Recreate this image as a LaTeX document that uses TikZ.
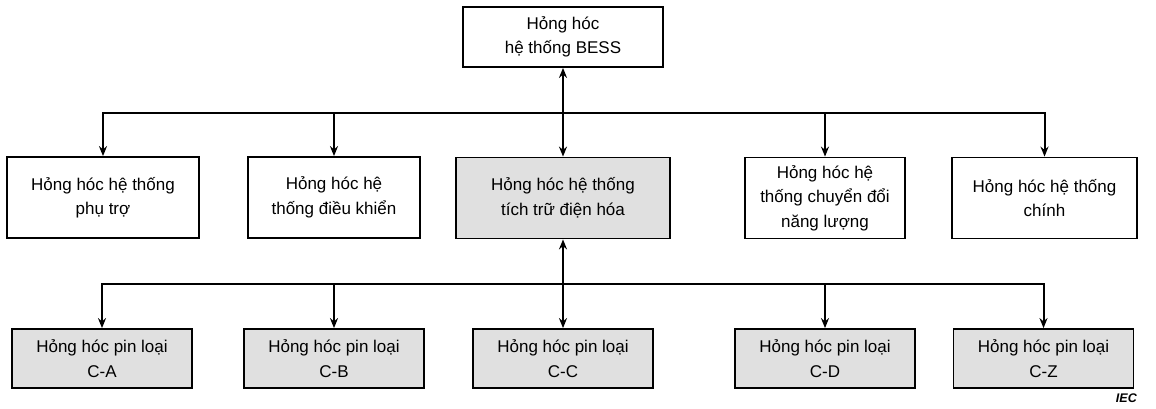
\documentclass[tikz,border=0pt]{standalone}
\usepackage{fontspec}
\setmainfont{Liberation Sans}
\usepackage{tikz}
\usetikzlibrary{arrows.meta,positioning}

\begin{document}
\begin{tikzpicture}[
  x=1pt, y=-1pt,
  font=\fontsize{17}{24.5}\selectfont,
  box/.style={draw, line width=1.8pt, align=center, inner sep=2pt},
  mid/.style={box, minimum height=81pt},
  cell/.style={box, fill=black!12, minimum width=180pt, minimum height=59pt},
  arr/.style={-{Stealth[length=10pt,width=8pt]}, line width=2pt},
  both/.style={{Stealth[length=10pt,width=8pt]}-{Stealth[length=10pt,width=8pt]}, line width=2pt}
]
\useasboundingbox (0,0) rectangle (1156,408);
% top level
\node[box, minimum width=200pt, minimum height=60pt] (bess) at (563,37) {Hỏng hóc\\hệ thống BESS};
% second row
\node[mid, minimum width=192pt] (aux) at (103,197.5) {Hỏng hóc hệ thống\\phụ trợ};
\node[mid, minimum width=172pt] (ctrl) at (334,197.5) {Hỏng hóc hệ\\thống điều khiển};
\node[mid, fill=black!12, minimum width=214pt] (ess) at (563,198) {Hỏng hóc hệ thống\\tích trữ điện hóa};
\node[mid, minimum width=160pt] (pcs) at (825,198) {Hỏng hóc hệ\\thống chuyển đổi\\năng lượng};
\node[mid, minimum width=185pt] (main) at (1044.5,198) {Hỏng hóc hệ thống\\chính};
% battery types
\node[cell] (ca) at (102,358.5) {Hỏng hóc pin loại\\C-A};
\node[cell] (cb) at (334,358.5) {Hỏng hóc pin loại\\C-B};
\node[cell] (cc) at (563,358.5) {Hỏng hóc pin loại\\C-C};
\node[cell] (cd) at (825,358.5) {Hỏng hóc pin loại\\C-D};
\node[cell] (cz) at (1043.5,358.5) {Hỏng hóc pin loại\\C-Z};
\node[font=\bfseries\itshape\fontsize{12.5}{14}\selectfont, anchor=east, inner sep=0pt] (iec) at (1137,398) {IEC};
% buses
\coordinate (upbus) at (563,113);
\coordinate (lowbus) at (563,284);
\draw[both] (bess) -- (ess);
\draw[arr] (upbus) -| (aux);
\draw[arr] (upbus) -| (ctrl);
\draw[arr] (upbus) -| (pcs);
\draw[arr] (upbus) -| (main);
\draw[both] (ess) -- (cc);
\draw[arr] (lowbus) -| (ca);
\draw[arr] (lowbus) -| (cb);
\draw[arr] (lowbus) -| (cd);
\draw[arr] (lowbus) -| (cz);
\end{tikzpicture}
\end{document}
